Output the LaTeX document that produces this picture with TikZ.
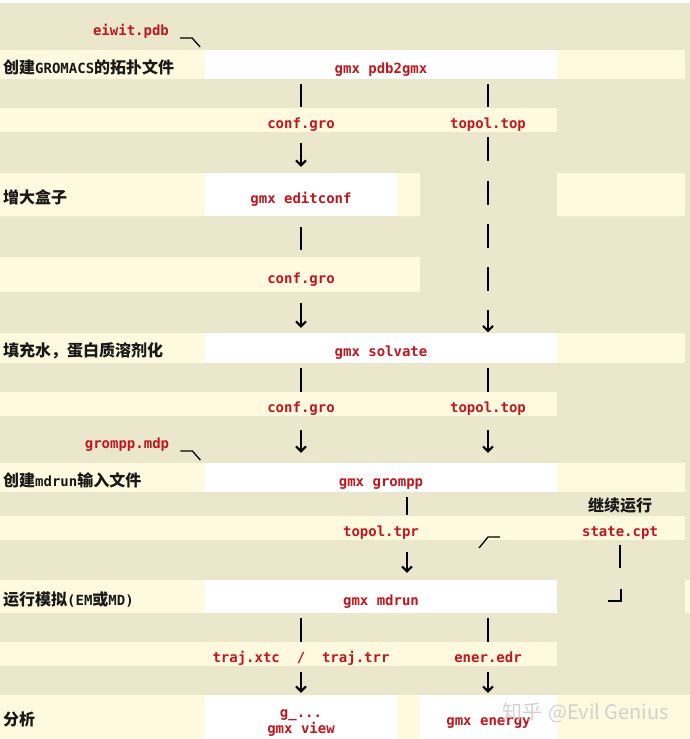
\documentclass[tikz,border=0pt]{standalone}
\usepackage{fontspec}
\setmonofont{DejaVu Sans Mono}
\newfontfamily\cjk{Noto Sans CJK SC}
\usepackage{xcolor}
\usepackage{tikz}
\usetikzlibrary{arrows.meta,positioning,calc}
\definecolor{bgkhaki}{HTML}{EBE7CD}
\definecolor{bgcream}{HTML}{FFFADF}
\definecolor{codered}{HTML}{C0161E}
\newcommand{\lat}[1]{{\ttfamily\fontsize{14}{17}\selectfont #1}}

\begin{document}
\begin{tikzpicture}[x=1pt, y=-1pt, >={Straight Barb[length=5pt,width=10pt]},
    cmdcell/.style={fill=white, inner sep=0pt, text=codered, font=\ttfamily\bfseries\fontsize{14}{17}\selectfont, text height=20pt, text depth=3pt},
    fileitem/.style={inner sep=0pt, text=codered, font=\ttfamily\bfseries\fontsize{14}{17}\selectfont, text height=20pt, text depth=3pt},
    steplabel/.style={anchor=west, inner sep=0pt, text=black!90, font=\cjk\bfseries\fontsize{16}{19}\selectfont, text height=20pt, text depth=3pt},
    watermark/.style={inner sep=0pt, text=gray!45, text opacity=0.8, font=\cjk\fontsize{20}{24}\selectfont},
    link/.style={line width=2pt},
    flow/.style={link, ->},
    hookline/.style={line width=1.3pt}]
    % Background and bands
    \useasboundingbox (0,0) rectangle (690,739);
    \fill[bgkhaki] (0,0) rectangle (690,739);
    \fill[white] (0,0) rectangle (690,3);
    \fill[bgcream] (0,50) rectangle (205,79) (557,50) rectangle (685,79);
    \fill[bgcream] (0,108) rectangle (557,132);
    \fill[bgcream] (0,173) rectangle (205,216) (397,173) rectangle (420,216) (557,173) rectangle (685,216);
    \fill[bgcream] (0,257) rectangle (420,292);
    \fill[bgcream] (0,333) rectangle (205,363) (557,333) rectangle (685,363);
    \fill[bgcream] (0,392) rectangle (557,416);
    \fill[bgcream] (0,463) rectangle (205,492) (557,463) rectangle (685,492);
    \fill[bgcream] (0,516) rectangle (685,540);
    \fill[bgcream] (0,580) rectangle (205,613) (685,580) rectangle (690,613);
    \fill[bgcream] (0,642) rectangle (557,666);
    \fill[bgcream] (0,695) rectangle (205,739) (397,695) rectangle (420,739) (557,695) rectangle (690,739);

    % Steps
    \node[steplabel] (lab1) at (3,64.5) {创建\lat{GROMACS}的拓扑文件};
    \node[steplabel] (lab2) at (3,194.5) {增大盒子};
    \node[steplabel] (lab3) at (3,348) {填充水，蛋白质溶剂化};
    \node[steplabel] (lab4) at (3,477.5) {创建\lat{mdrun}输入文件};
    \node[steplabel] (lab5) at (3,596.5) {运行模拟\lat{(EM}或\lat{MD)}};
    \node[steplabel] (lab6) at (3,717) {分析};
    \node[steplabel, anchor=base] (cont) at (620,511) {继续运行};

    % Commands
    \node[cmdcell, minimum width=352pt, minimum height=29pt] (pdb2gmx) at (381,64.5) {gmx pdb2gmx};
    \node[cmdcell, minimum width=192pt, minimum height=43pt] (editconf) at (301,194.5) {gmx editconf};
    \node[cmdcell, minimum width=352pt, minimum height=30pt] (solvate) at (381,348) {gmx solvate};
    \node[cmdcell, minimum width=352pt, minimum height=29pt] (grompp) at (381,477.5) {gmx grompp};
    \node[cmdcell, minimum width=352pt, minimum height=33pt] (mdrun) at (381,596.5) {gmx mdrun};
    \node[cmdcell, minimum width=192pt, minimum height=44pt] (analysis) at (301,717) {};
    \node[cmdcell, minimum width=137pt, minimum height=44pt] (energy) at (488.5,717) {gmx energy};
    \node[fileitem, anchor=base] (gtool) at (301,717) {g\_...};
    \node[fileitem, anchor=base] (gview) at (301,733) {gmx view};

    % Files
    \node[fileitem, anchor=base] (pdbin) at (131,35) {eiwit.pdb};
    \node[fileitem, anchor=base] (mdpin) at (127,448) {grompp.mdp};
    \node[fileitem, minimum height=24pt] (conf1) at (301,120) {conf.gro};
    \node[fileitem, minimum height=24pt] (topol1) at (488,120) {topol.top};
    \node[fileitem, minimum height=35pt] (conf2) at (301,274.5) {conf.gro};
    \node[fileitem, minimum height=24pt] (conf3) at (301,404) {conf.gro};
    \node[fileitem, minimum height=24pt] (topol3) at (488,404) {topol.top};
    \node[fileitem, minimum height=24pt] (tpr) at (381,528) {topol.tpr};
    \node[fileitem, minimum height=24pt] (cpt) at (620,528) {state.cpt};
    \node[fileitem, minimum height=24pt] (traj) at (301,654) {traj.xtc\ \ /\ \ traj.trr};
    \node[fileitem, minimum height=24pt] (edr) at (488,654) {ener.edr};
    \coordinate (cptloop) at (500,537);

    % Paths
    \draw[hookline] (pdbin.base east) ++(11,3) -- ++(12,0) -- ++(8,9);
    \draw[hookline] (mdpin.base east) ++(11,3) -- ++(12,0) -- ++(8,9);
    \draw[link, shorten <=5pt, shorten >=1pt] (pdb2gmx.south -| conf1) -- (conf1.north);
    \draw[link, shorten <=5pt, shorten >=1pt] (pdb2gmx.south -| topol1) -- (topol1.north);
    \draw[flow, shorten <=11pt, shorten >=6pt] (conf1.south) -- (editconf.north);
    \draw[flow, dash pattern=on 24pt off 19.3pt, shorten <=5pt, shorten >=0.5pt] (topol1.south) -- (topol1.south |- solvate.north);
    \draw[link, shorten <=11pt, shorten >=7pt] (editconf.south) -- (conf2.north);
    \draw[flow, shorten <=11pt, shorten >=5pt] (conf2.south) -- (conf2.south |- solvate.north);
    \draw[link, shorten <=5pt] (solvate.south -| conf3) -- (conf3.north);
    \draw[link, shorten <=5pt] (solvate.south -| topol3) -- (topol3.north);
    \draw[flow, shorten <=14pt, shorten >=10pt] (conf3.south) -- (conf3.south |- grompp.north);
    \draw[flow, shorten <=14pt, shorten >=10pt] (topol3.south) -- (topol3.south |- grompp.north);
    \draw[link, shorten <=5pt, shorten >=1pt] ([xshift=26pt]tpr.north |- grompp.south) -- ([xshift=26pt]tpr.north);
    \draw[flow, shorten <=12pt, shorten >=7pt] ([xshift=26pt]tpr.south) -- ([xshift=26pt]tpr.south |- mdrun.north);
    \draw[link, shorten <=5pt, shorten >=12pt] (cpt.south) -- (cpt.south |- mdrun.north);
    \draw[link, line width=1.6pt] (cpt.south |- mdrun.north) ++(1,9) -- ++(0,12) -- ++(-13,0);
    \draw[hookline] (cptloop) -- ++(-12,0) -- ++(-9,11);
    \draw[link, shorten <=5pt] (mdrun.south -| traj) -- (traj.north);
    \draw[link, shorten <=5pt] (mdrun.south -| edr) -- (edr.north);
    \draw[flow, shorten <=6pt, shorten >=2pt] (traj.south) -- (traj.south |- analysis.north);
    \draw[flow, shorten <=6pt, shorten >=2pt] (edr.south) -- (edr.south |- energy.north);

    % Watermark
    \node[watermark, anchor=base west] (zhihu) at (502,719) {知乎\hspace{6pt}@Evil Genius};
\end{tikzpicture}
\end{document}
